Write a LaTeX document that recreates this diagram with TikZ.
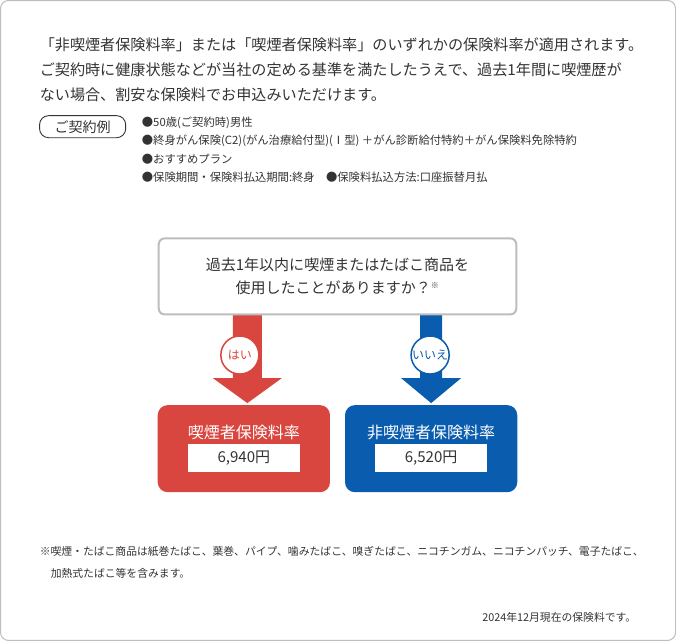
\documentclass[tikz,border=0pt]{standalone}
\usepackage{fontspec}
\setmainfont{Noto Sans CJK JP}
\usetikzlibrary{positioning}
\definecolor{smokered}{HTML}{D9463F}
\definecolor{nosmokeblue}{HTML}{0A5CAE}
\definecolor{framegray}{HTML}{BDBDBD}
\definecolor{textgray}{HTML}{333333}

\begin{document}
\begin{tikzpicture}[x=1pt,y=-1pt,
    lead/.style={anchor=west, inner sep=0pt, font=\fontsize{15.1}{18}\selectfont, text=textgray},
    small/.style={anchor=west, inner sep=0pt, font=\fontsize{11.3}{14}\selectfont, text=textgray},
    note/.style={anchor=west, inner sep=0pt, font=\fontsize{10.8}{14}\selectfont, text=textgray},
    result/.style={rounded corners=10pt, minimum width=172pt, minimum height=87pt, inner sep=0pt},
    price/.style={fill=white, minimum width=112pt, minimum height=28pt, inner sep=0pt, font=\fontsize{15}{18}\selectfont, text=textgray},
    badge/.style={circle, draw, line width=1.5pt, fill=white, minimum size=38pt, inner sep=0pt, font=\fontsize{12}{13}\selectfont}]

% Frame
\draw[framegray, line width=1pt, rounded corners=8pt] (1,1) rectangle (675,640);

% Intro
\node[lead] (intro1) at (40,45) {「非喫煙者保険料率」または「喫煙者保険料率」のいずれかの保険料率が適用されます。};
\node[lead] (intro2) at (40,70) {ご契約時に健康状態などが当社の定める基準を満たしたうえで、過去1年間に喫煙歴が};
\node[lead] (intro3) at (40,95) {ない場合、割安な保険料でお申込みいただけます。};

% Example
\node[draw=textgray, line width=0.9pt, rounded corners=9pt, minimum width=86pt, minimum height=22pt, inner sep=0pt,
  font=\fontsize{14}{15}\selectfont, text=textgray] (example) at (83,127) {ご契約例};
\node[small] (cond1) at (142,123) {●50歳(ご契約時)男性};
\node[small] (cond2) at (142,141) {●終身がん保険(C2)(がん治療給付型)(Ⅰ型) ＋がん診断給付特約＋がん保険料免除特約};
\node[small] (cond3) at (142,159) {●おすすめプラン};
\node[small] (cond4) at (142,177) {●保険期間・保険料払込期間:終身\quad ●保険料払込方法:口座振替月払};

% Results
\node[result, fill=smokered] (smoker) at (244,448.5) {};
\node[result, fill=nosmokeblue] (nonsmoker) at (431,448.5) {};
\node[text=white, font=\fontsize{16}{18}\selectfont] (smokerlbl) at (244,432) {喫煙者保険料率};
\node[text=white, font=\fontsize{16}{18}\selectfont] (nonsmokerlbl) at (431,432) {非喫煙者保険料率};
\node[price] (smokerprice) at (244,458) {6,940円};
\node[price] (nonsmokerprice) at (431,458) {6,520円};

% Arrows
\fill[smokered] (233,312) -- (262,312) -- (262,378) -- (282,378) -- (247.5,403) -- (213,378) -- (233,378) -- cycle;
\fill[nosmokeblue] (420,312) -- (442,312) -- (442,378) -- (461,378) -- (431,403) -- (401,378) -- (420,378) -- cycle;
\node[badge, draw=smokered, text=smokered] (yes) at (240,355) {はい};
\node[badge, draw=nosmokeblue, text=nosmokeblue] (no) at (430,355) {いいえ};

% Question
\node[draw=framegray, line width=2pt, rounded corners=6pt, fill=white, minimum width=357pt, minimum height=76pt,
  align=center, font=\fontsize{15}{23}\selectfont, text=textgray] (question) at (337.5,276.5)
  {過去1年以内に喫煙またはたばこ商品を\\使用したことがありますか？\textsuperscript{\fontsize{8}{8}\selectfont ※}};

% Notes
\node[note] (note1) at (40,551) {※喫煙・たばこ商品は紙巻たばこ、葉巻、パイプ、噛みたばこ、嗅ぎたばこ、ニコチンガム、ニコチンパッチ、電子たばこ、};
\node[note] (note2) at (51,573) {加熱式たばこ等を含みます。};
\node[note, anchor=east] (date) at (636,617) {2024年12月現在の保険料です。};
\end{tikzpicture}
\end{document}
